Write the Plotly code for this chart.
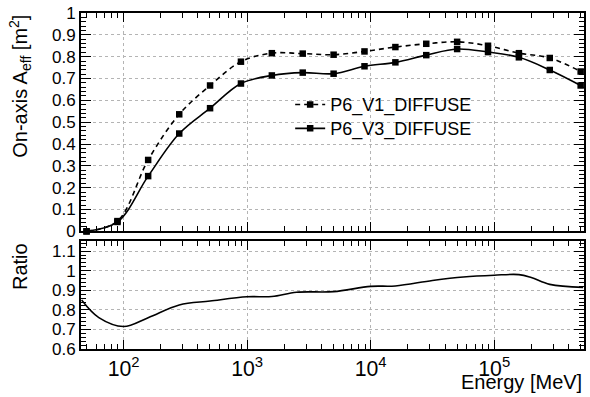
import plotly.graph_objects as go

# Energies (MeV) of the sampled points
energy = [50.1, 89.1, 158, 282, 501, 891, 1585, 2818, 5012, 8913, 15849,
          28184, 50119, 89125, 158489, 281838, 501187]
# On-axis effective area [m^2]
aeff_v1 = [0.0, 0.047, 0.327, 0.536, 0.668, 0.777, 0.816, 0.814, 0.809, 0.824,
           0.844, 0.859, 0.868, 0.850, 0.816, 0.794, 0.732]
aeff_v3 = [0.0, 0.043, 0.253, 0.448, 0.564, 0.677, 0.714, 0.727, 0.722, 0.756,
           0.774, 0.807, 0.835, 0.821, 0.797, 0.739, 0.668]

# Ratio curve (V3 / V1)
ratio_energy = [45.7, 63, 100, 158, 282, 501, 1000, 1585, 2512, 5012, 10000,
                15849, 31623, 56234, 100000, 158489, 199526, 281838, 524807]
ratio_vals = [0.85, 0.76, 0.715, 0.76, 0.825, 0.845, 0.867, 0.868, 0.89, 0.893,
              0.92, 0.922, 0.95, 0.968, 0.977, 0.98, 0.965, 0.93, 0.915]

series_names = ["P6_V1_DIFFUSE", "P6_V3_DIFFUSE"]

FONT = "Liberation Sans, Arial, sans-serif"

fig = go.Figure()
fig.add_trace(go.Scatter(
    x=energy, y=aeff_v1, mode="lines+markers", name=series_names[0],
    line=dict(color="black", width=1.6, dash="5px,4px", shape="spline"),
    marker=dict(symbol="square", size=6.5, color="black"),
    cliponaxis=False, xaxis="x", yaxis="y", legend="legend"))
fig.add_trace(go.Scatter(
    x=energy, y=aeff_v3, mode="lines+markers", name=series_names[1],
    line=dict(color="black", width=1.6, shape="spline"),
    marker=dict(symbol="square", size=6.5, color="black"),
    cliponaxis=False, xaxis="x", yaxis="y", legend="legend2"))
fig.add_trace(go.Scatter(
    x=ratio_energy, y=ratio_vals, mode="lines", showlegend=False,
    line=dict(color="black", width=1.6, shape="spline"),
    xaxis="x2", yaxis="y2"))

W, H = 590, 397
L, R, T, B = 81, 4, 12, 48
ph = H - T - B

def py(pix):
    return (H - B - pix) / ph

def px(pix):
    return (pix - L) / (W - L - R)

common_x = dict(
    type="log", range=[1.655, 5.727], dtick=1,
    showline=True, mirror="allticks", linewidth=2, linecolor="black",
    ticks="inside", ticklen=9, tickwidth=1, tickcolor="black",
    minor=dict(ticks="inside", ticklen=5, tickwidth=1, tickcolor="black",
               dtick="D1", showgrid=False),
    showgrid=True, gridcolor="#b4b4b4", gridwidth=1, griddash="3px,3px",
    zeroline=False, exponentformat="power",
    tickfont=dict(family=FONT, size=17, color="black"),
)
common_y = dict(
    showline=True, mirror="allticks", linewidth=2, linecolor="black",
    ticks="inside", ticklen=10, tickwidth=1, tickcolor="black",
    minor=dict(ticks="inside", ticklen=5, tickwidth=1, tickcolor="black",
               dtick=0.02, showgrid=False),
    showgrid=True, gridcolor="#b4b4b4", gridwidth=1, griddash="3px,3px",
    zeroline=False, dtick=0.1,
    tickfont=dict(family=FONT, size=17, color="black"),
)

leg_common = dict(xanchor="left", yanchor="middle",
                  bgcolor="rgba(0,0,0,0)", borderwidth=0, itemwidth=30,
                  font=dict(family=FONT, size=18, color="black"))

fig.update_layout(
    width=W, height=H,
    margin=dict(l=L, r=R, t=T, b=B),
    paper_bgcolor="white", plot_bgcolor="white",
    font=dict(family=FONT, color="black"),
    xaxis=dict(common_x, anchor="y", domain=[0, 1], showticklabels=False),
    xaxis2=dict(common_x, anchor="y2", domain=[0, 1], matches="x", showticklabels=True),
    yaxis=dict(common_y, anchor="x", domain=[py(231), 1], range=[0, 1]),
    yaxis2=dict(common_y, anchor="x2", domain=[0, py(241)], range=[0.6, 1.15], tick0=0.6),
    legend=dict(leg_common, x=px(291), y=py(104)),
    legend2=dict(leg_common, x=px(291), y=py(128)),
    showlegend=True,
    annotations=[
        dict(text="On-axis A<sub>eff</sub> [m<sup>2</sup>]", textangle=-90,
             xref="paper", yref="paper", x=px(20), y=1, xanchor="center", yanchor="top",
             showarrow=False, font=dict(family=FONT, size=20, color="black")),
        dict(text="Ratio", textangle=-90,
             xref="paper", yref="paper", x=px(20), y=py(241), xanchor="center", yanchor="top",
             showarrow=False, font=dict(family=FONT, size=20, color="black")),
        dict(text="Energy [MeV]",
             xref="paper", yref="paper", x=1, y=py(382), xanchor="right", yanchor="middle",
             showarrow=False, font=dict(family=FONT, size=20, color="black")),
    ],
)

fig.write_html("out.html",
               config={"displayModeBar": False, "staticPlot": True},
               post_script="document.body.style.margin='0';document.body.style.overflow='hidden';")
